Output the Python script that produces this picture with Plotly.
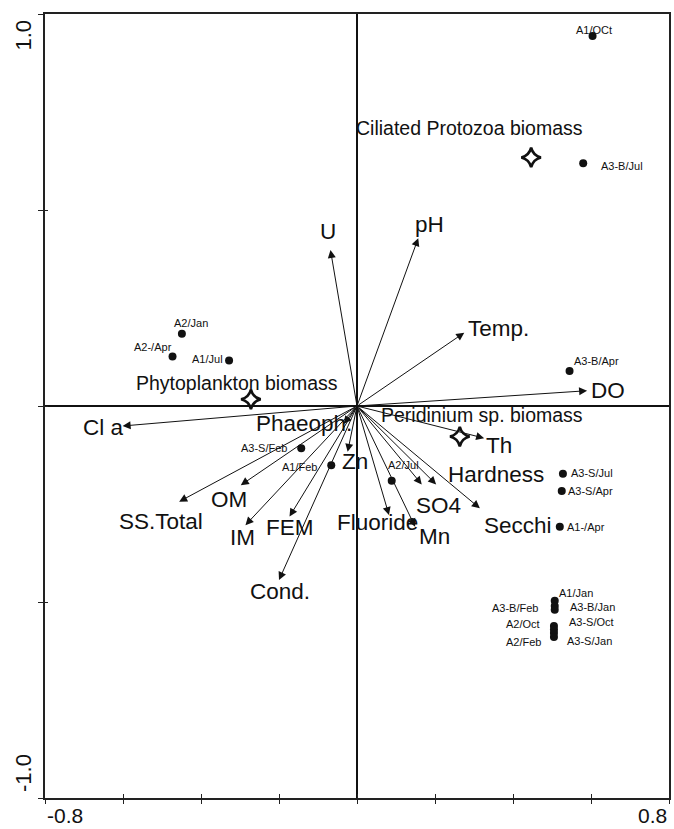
import plotly.graph_objects as go

# Sample scores on CCA axes 1 and 2
site_names = ["A1/OCt", "A3-B/Jul", "A2/Jan", "A2-/Apr", "A1/Jul", "A3-S/Feb", "A1/Feb",
              "A2/Jul", "A3-B/Apr", "A3-S/Jul", "A3-S/Apr", "A1-/Apr", "A1/Jan", "A3-B/Feb",
              "A3-B/Jan", "A2/Oct", "A3-S/Oct", "A2/Feb", "A3-S/Jan"]
site_x = [0.604, 0.580, -0.449, -0.473, -0.328, -0.143, -0.066, 0.089, 0.545, 0.528, 0.525,
          0.520, 0.507, 0.507, 0.507, 0.505, 0.505, 0.505, 0.505]
site_y = [0.944, 0.619, 0.184, 0.126, 0.116, -0.108, -0.151, -0.191, 0.089, -0.173, -0.217,
          -0.308, -0.497, -0.510, -0.520, -0.561, -0.570, -0.579, -0.589]

# Biomass (species) scores
bio_names = ["Ciliated Protozoa biomass", "Phytoplankton biomass", "Peridinium sp. biomass"]
bio_x = [0.4465, -0.272, 0.2636]
bio_y = [0.634, 0.017, -0.078]

# Environmental variable biplot arrows
env_names = ["Cl a", "SS.Total", "OM", "IM", "FEM", "Cond.", "Phaeoph.", "Zn", "Fluoride",
             "Mn", "SO4", "Hardness", "Secchi", "Th", "DO", "Temp.", "pH", "U"]
env_x = [-0.601, -0.456, -0.298, -0.286, -0.173, -0.200, -0.034, -0.024, 0.082,
         0.149, 0.166, 0.203, 0.315, 0.326, 0.590, 0.275, 0.157, -0.068]
env_y = [-0.051, -0.244, -0.202, -0.304, -0.282, -0.444, -0.046, -0.117, -0.278,
         -0.308, -0.200, -0.200, -0.261, -0.082, 0.039, 0.187, 0.428, 0.398]

# Axis tick positions and the labels printed at the ends
x_ticks = [-0.8, -0.6, -0.4, -0.2, 0.0, 0.2, 0.4, 0.6, 0.8]
y_ticks = [-1.0, -0.5, 0.0, 0.5, 1.0]
x_end_labels = ["-0.8", "0.8"]
y_end_labels = ["-1.0", "1.0"]

# Label placement (pixel offsets from the point: right, down)
site_off = [(1, -6), (38.5, 3), (9, -11), (-20, -10), (-22, -2), (-37, 0), (-32, 2),
            (12, -16), (27, -10), (29, -1), (29, 0), (26, 0), (21, -8), (-40, 2),
            (38, -3), (-30.5, -2), (37.5, -7), (-30, 9), (35.7, 4)]
bio_off = [(-62, -29), (-14, -16.6), (22.6, -21.7)]
env_off = [(-20, 2), (-18, 20), (-12, 14), (-3, 12), (0, 11), (1, 11), (-40, -1), (7, 10),
           (-11, 8), (19, 10), (17, 21.5), (59.5, -10), (38, 17), (14.5, 7), (21, 0),
           (34, -4), (11, -14), (-2, -18)]

FONT = "Liberation Sans, Arial, Helvetica, sans-serif"
INK = "#111111"

fig = go.Figure()

fig.add_trace(go.Scatter(
    x=site_x, y=site_y, mode="markers",
    marker=dict(color=INK, size=8, line=dict(width=0)),
    hoverinfo="skip", showlegend=False))

fig.add_trace(go.Scatter(
    x=bio_x, y=bio_y, mode="markers",
    marker=dict(symbol="star-diamond-open", color=INK, size=14, line=dict(width=2.6, color=INK)),
    hoverinfo="skip", showlegend=False))

# overlay axes carrying the inward half of the crossing ticks
fig.add_trace(go.Scatter(x=[None], y=[None], xaxis="x2", yaxis="y2",
                         hoverinfo="skip", showlegend=False))

ann = []
for name, ex, ey in zip(env_names, env_x, env_y):
    ann.append(dict(x=ex, y=ey, ax=0, ay=0, xref="x", yref="y", axref="x", ayref="y",
                    text="", showarrow=True, arrowhead=2, arrowsize=1.6, arrowwidth=1,
                    arrowcolor=INK, standoff=0, startstandoff=0))
for name, ex, ey, (dx, dy) in zip(env_names, env_x, env_y, env_off):
    ann.append(dict(x=ex, y=ey, xref="x", yref="y", text=name, showarrow=False,
                    xshift=dx, yshift=-dy, xanchor="center", yanchor="middle",
                    font=dict(family=FONT, size=22.5, color=INK)))
for name, sx, sy, (dx, dy) in zip(site_names, site_x, site_y, site_off):
    ann.append(dict(x=sx, y=sy, xref="x", yref="y", text=name, showarrow=False,
                    xshift=dx, yshift=-dy, xanchor="center", yanchor="middle",
                    font=dict(family=FONT, size=11, color=INK)))
for name, bx, by, (dx, dy) in zip(bio_names, bio_x, bio_y, bio_off):
    ann.append(dict(x=bx, y=by, xref="x", yref="y", text=name, showarrow=False,
                    xshift=dx, yshift=-dy, xanchor="center", yanchor="middle",
                    font=dict(family=FONT, size=19.5, color=INK)))

# end labels of the axes
ann.append(dict(x=x_ticks[0], y=0, xref="x", yref="paper", text=x_end_labels[0],
                showarrow=False, xanchor="left", yanchor="bottom", yshift=-31,
                font=dict(family=FONT, size=21, color=INK)))
ann.append(dict(x=x_ticks[-1], y=0, xref="x", yref="paper", text=x_end_labels[1],
                showarrow=False, xanchor="right", yanchor="bottom", yshift=-31,
                font=dict(family=FONT, size=21, color=INK)))
ann.append(dict(x=0, y=y_ticks[0], xref="paper", yref="y", text=y_end_labels[0],
                showarrow=False, textangle=-90, xanchor="center", yanchor="bottom",
                xshift=-22, yshift=4, font=dict(family=FONT, size=22, color=INK)))
ann.append(dict(x=0, y=y_ticks[-1], xref="paper", yref="y", text=y_end_labels[1],
                showarrow=False, textangle=-90, xanchor="center", yanchor="top",
                xshift=-22, yshift=-4, font=dict(family=FONT, size=22, color=INK)))

axis_common = dict(showgrid=False, showticklabels=False, tickcolor="#222222")

fig.update_layout(
    width=674, height=829,
    margin=dict(l=45, r=3, t=14, b=31),
    paper_bgcolor="white", plot_bgcolor="white",
    xaxis=dict(range=[x_ticks[0], x_ticks[-1]], tickvals=x_ticks, ticks="outside", ticklen=4,
               tickwidth=1.3, showline=True, mirror=True, linecolor="#222222", linewidth=1.6,
               zeroline=True, zerolinecolor=INK, zerolinewidth=1.5, **axis_common),
    yaxis=dict(range=[y_ticks[0], y_ticks[-1]], tickvals=y_ticks, ticks="outside", ticklen=5,
               tickwidth=1.3, showline=True, mirror=True, linecolor="#222222", linewidth=1.6,
               zeroline=True, zerolinecolor=INK, zerolinewidth=1.5, **axis_common),
    xaxis2=dict(overlaying="x", matches="x", range=[x_ticks[0], x_ticks[-1]], tickvals=x_ticks,
                ticks="inside", ticklen=4, tickwidth=1.3, showline=False, zeroline=False,
                side="bottom", anchor="y2", **axis_common),
    yaxis2=dict(overlaying="y", matches="y", range=[y_ticks[0], y_ticks[-1]], tickvals=y_ticks,
                ticks="inside", ticklen=3, tickwidth=1.3, showline=False, zeroline=False,
                side="left", anchor="x2", **axis_common),
    annotations=ann,
    showlegend=False,
)

fig.write_html("out.html")
